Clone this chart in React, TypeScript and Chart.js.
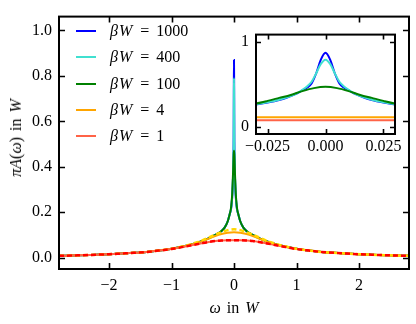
import React, { useEffect, useRef } from "react";
import { Chart, registerables } from "chart.js";

Chart.register(...registerables);

// ---- data ----
const betaLabels = ["1000", "400", "100", "4", "1"];
const seriesColors = ["#0000ff", "#40e0d0", "#008000", "#ffa500", "#ff6347"];
const refColors = ["#ffd700", "#ff0000"];

const omegaBroad = [-2.8, -2.5, -2.2, -2.0, -1.8, -1.6, -1.4, -1.2, -1.0, -0.8, -0.6, -0.5, -0.4, -0.3, -0.2, -0.1, 0,
  0.1, 0.2, 0.3, 0.4, 0.5, 0.6, 0.8, 1.0, 1.2, 1.4, 1.6, 1.8, 2.0, 2.2, 2.5, 2.8];

const rhoBeta1 = [0.008, 0.010, 0.013, 0.015, 0.018, 0.021, 0.025, 0.031, 0.038, 0.048, 0.059, 0.064, 0.069, 0.073, 0.0755, 0.0767, 0.077,
  0.0767, 0.0755, 0.073, 0.069, 0.064, 0.059, 0.048, 0.038, 0.031, 0.025, 0.021, 0.018, 0.015, 0.013, 0.010, 0.008];

const rhoBeta4 = [0.008, 0.010, 0.013, 0.015, 0.018, 0.021, 0.025, 0.031, 0.039, 0.050, 0.065, 0.074, 0.084, 0.095, 0.104, 0.110, 0.112,
  0.110, 0.104, 0.095, 0.084, 0.074, 0.065, 0.050, 0.039, 0.031, 0.025, 0.021, 0.018, 0.015, 0.013, 0.010, 0.008];

const rhoRefBeta4 = [0.008, 0.010, 0.013, 0.015, 0.018, 0.021, 0.025, 0.031, 0.039, 0.051, 0.067, 0.077, 0.089, 0.101, 0.112, 0.121, 0.125,
  0.121, 0.112, 0.101, 0.089, 0.077, 0.067, 0.051, 0.039, 0.031, 0.025, 0.021, 0.018, 0.015, 0.013, 0.010, 0.008];

const rhoRefBeta1 = [0.008, 0.010, 0.013, 0.015, 0.018, 0.021, 0.025, 0.031, 0.038, 0.048, 0.059, 0.064, 0.069, 0.073, 0.0755, 0.0767, 0.077,
  0.0767, 0.0755, 0.073, 0.069, 0.064, 0.059, 0.048, 0.038, 0.031, 0.025, 0.021, 0.018, 0.015, 0.013, 0.010, 0.008];

const omegaSharp = [-2.8, -2.5, -2.2, -2.0, -1.8, -1.6, -1.4, -1.2, -1.0, -0.8, -0.6, -0.5, -0.4, -0.3, -0.2, -0.15, -0.1, -0.07, -0.05,
  -0.04, -0.03, -0.025, -0.02, -0.015, -0.01, -0.005, 0,
  0.005, 0.01, 0.015, 0.02, 0.025, 0.03, 0.04, 0.05, 0.07, 0.1, 0.15, 0.2, 0.3, 0.4, 0.5, 0.6, 0.8, 1.0, 1.2, 1.4, 1.6, 1.8, 2.0, 2.2, 2.5, 2.8];

const rhoBeta100 = [0.008, 0.010, 0.013, 0.015, 0.018, 0.021, 0.025, 0.031, 0.039, 0.050, 0.065, 0.075, 0.086, 0.100, 0.117, 0.132, 0.160, 0.190, 0.215,
  0.240, 0.275, 0.305, 0.340, 0.375, 0.420, 0.455, 0.470,
  0.455, 0.420, 0.375, 0.340, 0.305, 0.275, 0.240, 0.215, 0.190, 0.160, 0.132, 0.117, 0.100, 0.086, 0.075, 0.065, 0.050, 0.039, 0.031, 0.025, 0.021, 0.018, 0.015, 0.013, 0.010, 0.008];

const omegaPeak = [-2.8, -2.5, -2.2, -2.0, -1.8, -1.6, -1.4, -1.2, -1.0, -0.8, -0.6, -0.5, -0.4, -0.3, -0.2, -0.15, -0.1, -0.07, -0.05,
  -0.04, -0.03, -0.025, -0.02, -0.016, -0.012, -0.01, -0.008, -0.006, -0.004, -0.002, 0,
  0.002, 0.004, 0.006, 0.008, 0.01, 0.012, 0.016, 0.02, 0.025, 0.03, 0.04,
  0.05, 0.07, 0.1, 0.15, 0.2, 0.3, 0.4, 0.5, 0.6, 0.8, 1.0, 1.2, 1.4, 1.6, 1.8, 2.0, 2.2, 2.5, 2.8];

const rhoBeta1000 = [0.008, 0.010, 0.013, 0.015, 0.018, 0.021, 0.025, 0.031, 0.039, 0.050, 0.065, 0.075, 0.086, 0.100, 0.117, 0.132, 0.160, 0.190, 0.210,
  0.230, 0.262, 0.285, 0.315, 0.350, 0.395, 0.430, 0.460, 0.510, 0.630, 0.790, 0.870,
  0.790, 0.630, 0.510, 0.460, 0.430, 0.395, 0.350, 0.315, 0.285, 0.262, 0.230,
  0.210, 0.190, 0.160, 0.132, 0.117, 0.100, 0.086, 0.075, 0.065, 0.050, 0.039, 0.031, 0.025, 0.021, 0.018, 0.015, 0.013, 0.010, 0.008];

const rhoBeta400 = [0.008, 0.010, 0.013, 0.015, 0.018, 0.021, 0.025, 0.031, 0.039, 0.050, 0.065, 0.075, 0.086, 0.100, 0.117, 0.132, 0.160, 0.190, 0.210,
  0.232, 0.265, 0.288, 0.318, 0.353, 0.400, 0.435, 0.475, 0.530, 0.630, 0.740, 0.790,
  0.740, 0.630, 0.530, 0.475, 0.435, 0.400, 0.353, 0.318, 0.288, 0.265, 0.232,
  0.210, 0.190, 0.160, 0.132, 0.117, 0.100, 0.086, 0.075, 0.065, 0.050, 0.039, 0.031, 0.025, 0.021, 0.018, 0.015, 0.013, 0.010, 0.008];

const mainXTicks = [-2, -1, 0, 1, 2];
const mainYTicks = [0, 0.2, 0.4, 0.6, 0.8, 1.0];
const insetXTicks = [-0.025, 0, 0.025];
const insetYTicks = [0, 1];

// ---- helpers ----
const FONT = '"Liberation Serif", "Times New Roman", serif';
const pts = (xs: number[], ys: number[]) => xs.map((x, i) => ({ x, y: ys[i] }));
const minus = (s: string) => s.replace("-", "\u2212");

const frameTicks = {
  id: "frameTicks",
  afterDatasetsDraw(chart: any, _args: any, opts: any) {
    const { ctx, chartArea: a, scales } = chart;
    const len = opts.len ?? 6;
    ctx.save();
    ctx.strokeStyle = "#000";
    ctx.lineWidth = opts.tickWidth ?? 1.6;
    ctx.beginPath();
    for (const t of scales.x.ticks) {
      const px = Math.round(scales.x.getPixelForValue(t.value)) + 0.5;
      ctx.moveTo(px, a.bottom);
      ctx.lineTo(px, a.bottom - len);
      ctx.moveTo(px, a.top);
      ctx.lineTo(px, a.top + len);
    }
    for (const t of scales.y.ticks) {
      const py = Math.round(scales.y.getPixelForValue(t.value)) + 0.5;
      ctx.moveTo(a.left, py);
      ctx.lineTo(a.left + len, py);
      ctx.moveTo(a.right, py);
      ctx.lineTo(a.right - len, py);
    }
    ctx.stroke();
    ctx.lineWidth = opts.frameWidth ?? 2;
    ctx.strokeRect(a.left, a.top, a.right - a.left, a.bottom - a.top);
    ctx.restore();
  },
};

function lineDs(label: string, data: any[], color: string, order: number, width = 2, dash: number[] = []) {
  return {
    label,
    data,
    borderColor: color,
    backgroundColor: color,
    borderWidth: width,
    borderDash: dash,
    pointRadius: 0,
    cubicInterpolationMode: "monotone",
    fill: false,
    order,
  };
}

export default function App() {
  const mainRef = useRef<HTMLCanvasElement>(null);
  const insetRef = useRef<HTMLCanvasElement>(null);

  useEffect(() => {
    const tickFont = { family: FONT, size: 16 };
    const main = new Chart(mainRef.current as HTMLCanvasElement, {
      type: "line",
      data: {
        datasets: [
          lineDs("βW = " + betaLabels[0], pts(omegaPeak, rhoBeta1000), seriesColors[0], 7),
          lineDs("βW = " + betaLabels[1], pts(omegaPeak, rhoBeta400), seriesColors[1], 6),
          lineDs("βW = " + betaLabels[2], pts(omegaSharp, rhoBeta100), seriesColors[2], 5),
          lineDs("βW = " + betaLabels[3], pts(omegaBroad, rhoBeta4), seriesColors[3], 4),
          lineDs("βW = " + betaLabels[4], pts(omegaBroad, rhoBeta1), seriesColors[4], 3),
          lineDs("reference βW = 4", pts(omegaBroad, rhoRefBeta4), refColors[0], 2, 2.5, [5, 3]),
          lineDs("reference βW = 1", pts(omegaBroad, rhoRefBeta1), refColors[1], 1, 2.5, [5, 3]),
        ] as any,
      },
      options: {
        responsive: false,
        animation: false,
        devicePixelRatio: 1,
        layout: { padding: { top: 5, right: 7, left: 0, bottom: 0 } },
        plugins: {
          legend: { display: false },
          tooltip: { enabled: false },
          frameTicks: { len: 6, tickWidth: 1.6, frameWidth: 2 },
        } as any,
        scales: {
          x: {
            type: "linear",
            min: -2.8,
            max: 2.8,
            grid: { display: false, drawTicks: false },
            border: { display: false },
            afterFit: (s: any) => { s.height = 55; },
            afterBuildTicks: (s: any) => { s.ticks = mainXTicks.map((v) => ({ value: v })); },
            ticks: {
              font: tickFont,
              color: "#000",
              padding: 7,
              maxRotation: 0,
              callback: (v: any) => minus(String(v)),
            },
          },
          y: {
            type: "linear",
            min: -0.05,
            max: 1.061,
            grid: { display: false, drawTicks: false },
            border: { display: false },
            afterFit: (s: any) => { s.width = 59; },
            afterBuildTicks: (s: any) => { s.ticks = mainYTicks.map((v) => ({ value: v })); },
            ticks: {
              font: tickFont,
              color: "#000",
              padding: 7,
              callback: (v: any) => minus(Number(v).toFixed(1)),
            },
          },
        },
      },
      plugins: [frameTicks as any],
    });

    const inset = new Chart(insetRef.current as HTMLCanvasElement, {
      type: "line",
      data: {
        datasets: [
          lineDs("βW = " + betaLabels[0], pts(omegaPeak, rhoBeta1000), seriesColors[0], 5),
          lineDs("βW = " + betaLabels[1], pts(omegaPeak, rhoBeta400), seriesColors[1], 4),
          lineDs("βW = " + betaLabels[2], pts(omegaSharp, rhoBeta100), seriesColors[2], 3),
          lineDs("βW = " + betaLabels[3], pts(omegaBroad, rhoBeta4), seriesColors[3], 2),
          lineDs("βW = " + betaLabels[4], pts(omegaBroad, rhoBeta1), seriesColors[4], 1),
        ] as any,
      },
      options: {
        responsive: false,
        animation: false,
        devicePixelRatio: 1,
        layout: { padding: { top: 6, right: 15, left: 0, bottom: 0 } },
        plugins: {
          legend: { display: false },
          tooltip: { enabled: false },
          frameTicks: { len: 5, tickWidth: 1.6, frameWidth: 2 },
        } as any,
        scales: {
          x: {
            type: "linear",
            min: -0.03,
            max: 0.03,
            grid: { display: false, drawTicks: false },
            border: { display: false },
            afterFit: (s: any) => { s.height = 24; },
            afterBuildTicks: (s: any) => { s.ticks = insetXTicks.map((v) => ({ value: v })); },
            ticks: {
              font: tickFont,
              color: "#000",
              padding: 3,
              maxRotation: 0,
              callback: (v: any) => minus(Number(v).toFixed(3)),
            },
          },
          y: {
            type: "linear",
            min: -0.085,
            max: 1.085,
            grid: { display: false, drawTicks: false },
            border: { display: false },
            afterFit: (s: any) => { s.width = 28; },
            afterBuildTicks: (s: any) => { s.ticks = insetYTicks.map((v) => ({ value: v })); },
            ticks: {
              font: tickFont,
              color: "#000",
              padding: 7,
              callback: (v: any) => String(v),
            },
          },
        },
      },
      plugins: [frameTicks as any],
    });

    return () => {
      main.destroy();
      inset.destroy();
    };
  }, []);

  return (
    <div
      style={{
        position: "absolute",
        left: 0,
        top: 0,
        width: 416,
        height: 324,
        background: "#fff",
        fontFamily: FONT,
        fontSize: 16,
        color: "#000",
        overflow: "hidden",
      }}
    >
      <canvas ref={mainRef} width={416} height={324} style={{ position: "absolute", left: 0, top: 0, width: 416, height: 324 }} />
      <canvas ref={insetRef} width={182} height={140} style={{ position: "absolute", left: 228, top: 18, width: 182, height: 140 }} />
      {betaLabels.map((b, i) => (
        <React.Fragment key={b}>
          <div
            style={{
              position: "absolute",
              left: 76,
              top: 30 + i * 26.3,
              width: 20,
              height: 2,
              background: seriesColors[i],
            }}
          />
          <div
            style={{
              position: "absolute",
              left: 110,
              top: 31 + i * 26.3,
              transform: "translateY(-50%)",
              lineHeight: 1,
              whiteSpace: "nowrap",
            }}
          >
            <i style={{ letterSpacing: 1 }}>βW</i> <span style={{ margin: "0 3px" }}>=</span> {b}
          </div>
        </React.Fragment>
      ))}
      <div
        style={{
          position: "absolute",
          left: 234,
          top: 308,
          transform: "translate(-50%, -50%)",
          lineHeight: 1,
          whiteSpace: "nowrap",
          wordSpacing: 2,
        }}
      >
        <i>ω</i> in <i>W</i>
      </div>
      <div
        style={{
          position: "absolute",
          left: 16,
          top: 138,
          transform: "translate(-50%, -50%) rotate(-90deg)",
          lineHeight: 1,
          whiteSpace: "nowrap",
          wordSpacing: 2,
        }}
      >
        <i>πA</i>(<i>ω</i>) in <i>W</i>
      </div>
    </div>
  );
}
